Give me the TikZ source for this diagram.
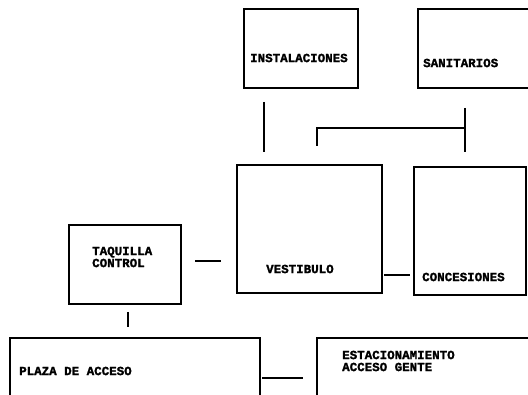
\documentclass[tikz,border=0pt]{standalone}
\usepackage{fontspec}
\setmonofont{Liberation Mono}[BoldFeatures={FakeBold=1.6}]
\begin{document}
\begin{tikzpicture}[x=1pt,y=-1pt,
  box/.style={draw, line width=1.3pt, anchor=north west, inner sep=0pt, outer sep=0pt},
  lbl/.style={anchor=west, font=\ttfamily\bfseries\fontsize{12.5}{12}\selectfont, inner sep=0pt, align=left},
  conn/.style={line width=1.4pt}]
\useasboundingbox (0,0) rectangle (528,395);
\fill[white] (0,0) rectangle (528,395);
% boxes
\node[box, minimum width=114pt, minimum height=79pt] (inst) at (244,9) {};
\node[box, minimum width=120pt, minimum height=79pt] (sani) at (418,9) {};
\node[box, minimum width=145pt, minimum height=128pt] (vest) at (237,165) {};
\node[box, minimum width=112pt, minimum height=128pt] (conc) at (414,167) {};
\node[box, minimum width=112pt, minimum height=79pt] (taq) at (69,225) {};
\node[box, minimum width=250pt, minimum height=60pt] (plaza) at (10,338) {};
\node[box, minimum width=230pt, minimum height=60pt] (estac) at (317,338) {};
% labels
\node[lbl] (tinst) at (250,58) {INSTALACIONES};
\node[lbl] (tsani) at (423,63) {SANITARIOS};
\node[lbl] (ttaq) at (92,257) {TAQUILLA\\CONTROL};
\node[lbl] (tvest) at (266,269) {VESTIBULO};
\node[lbl] (tconc) at (422,277) {CONCESIONES};
\node[lbl] (tplaza) at (19,371) {PLAZA DE ACCESO};
\node[lbl] (testac) at (342,361) {ESTACIONAMIENTO\\ACCESO GENTE};
% connectors
\draw[conn] ([xshift=20pt,yshift=-14pt]inst.south west) -- ([xshift=27pt,yshift=13pt]vest.north west);
\draw[conn] ([xshift=80pt,yshift=19pt]vest.north west) |- ([xshift=47pt,yshift=-40pt]sani.south west);
\draw[conn] ([xshift=47pt,yshift=-20pt]sani.south west) -- ([xshift=51pt,yshift=15pt]conc.north west);
\draw[conn] ([xshift=14pt,yshift=3.5pt]taq.east) -- ([xshift=-16pt,yshift=3.5pt]taq.east -| vest.west);
\draw[conn] ([xshift=2pt,yshift=18pt]vest.south east) -- ([xshift=-4pt,yshift=20pt]conc.south west);
\draw[conn] ([xshift=59pt,yshift=-8pt]taq.south west) -- ([xshift=118pt,yshift=11pt]plaza.north west);
\draw[conn] ([xshift=2pt,yshift=-40pt]plaza.north east) -- ([xshift=-14pt,yshift=-40pt]estac.north west);
\end{tikzpicture}
\end{document}
